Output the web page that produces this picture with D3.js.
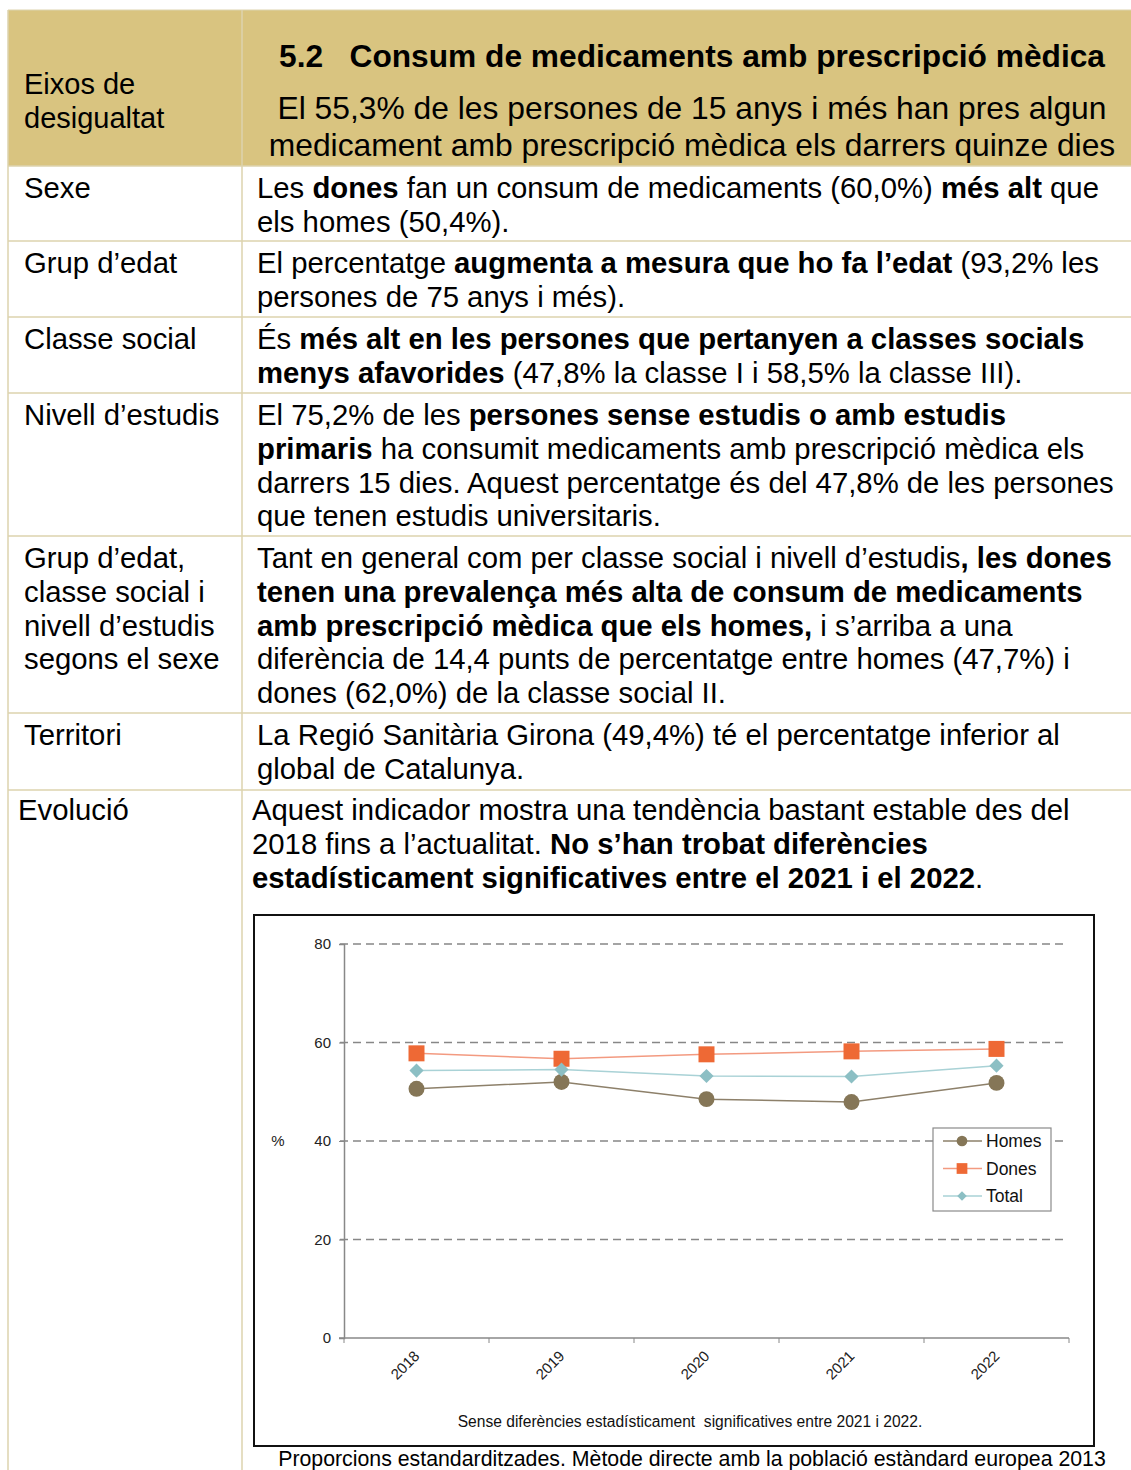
<!DOCTYPE html>
<html>
<head>
<meta charset="utf-8">
<script src="https://cdn.jsdelivr.net/npm/d3@7"></script>
<style>
  body { margin: 0; background: #fff; }
  text { font-family: "Liberation Sans", Arial, sans-serif; white-space: pre; }
</style>
</head>
<body>
<div id="chart"></div>
<script>
// ---- chart data ----
var years = ["2018", "2019", "2020", "2021", "2022"];
var homes = [50.6, 52.0, 48.5, 47.9, 51.8];
var dones = [57.8, 56.7, 57.6, 58.2, 58.7];
var total = [54.3, 54.5, 53.2, 53.1, 55.3];
var yTicks = [0, 20, 40, 60, 80];
var seriesNames = ["Homes", "Dones", "Total"];

// ---- table text ----
var title = "5.2   Consum de medicaments amb prescripció mèdica";
var subtitle = ["El 55,3% de les persones de 15 anys i més han pres algun",
                "medicament amb prescripció mèdica els darrers quinze dies"];
var headLeft = ["Eixos de", "desigualtat"];
var rowLabels = [
  ["Sexe"],
  ["Grup d’edat"],
  ["Classe social"],
  ["Nivell d’estudis"],
  ["Grup d’edat,", "classe social i", "nivell d’estudis", "segons el sexe"],
  ["Territori"],
  ["Evolució"]
];
var rowTexts = [
  ["Les **dones** fan un consum de medicaments (60,0%) **més alt** que",
   "els homes (50,4%)."],
  ["El percentatge **augmenta a mesura que ho fa l’edat** (93,2% les",
   "persones de 75 anys i més)."],
  ["És **més alt en les persones que pertanyen a classes socials**",
   "**menys afavorides** (47,8% la classe I i 58,5% la classe III)."],
  ["El 75,2% de les **persones sense estudis o amb estudis**",
   "**primaris** ha consumit medicaments amb prescripció mèdica els",
   "darrers 15 dies. Aquest percentatge és del 47,8% de les persones",
   "que tenen estudis universitaris."],
  ["Tant en general com per classe social i nivell d’estudis**, les dones**",
   "**tenen una prevalença més alta de consum de medicaments**",
   "**amb prescripció mèdica que els homes,** i s’arriba a una",
   "diferència de 14,4 punts de percentatge entre homes (47,7%) i",
   "dones (62,0%) de la classe social II."],
  ["La Regió Sanitària Girona (49,4%) té el percentatge inferior al",
   "global de Catalunya."],
  ["Aquest indicador mostra una tendència bastant estable des del",
   "2018 fins a l’actualitat. **No s’han trobat diferències**",
   "**estadísticament significatives entre el 2021 i el 2022**."]
];
var rowTops = [166, 241, 317, 393, 536, 713, 790];
var chartNote = "Sense diferències estadísticament  significatives entre 2021 i 2022.";
var footNote = "Proporcions estandarditzades. Mètode directe amb la població estàndard europea 2013";

var W = 1131, H = 1470;
var svg = d3.select("#chart").append("svg")
    .attr("width", W).attr("height", H);
svg.append("rect").attr("width", W).attr("height", H).attr("fill", "#fff");

var lineCol = "#dcd3ae";
var lh = 33.8;
var bodySize = 29.3;

// header
svg.append("rect").attr("x", 8).attr("y", 10).attr("width", W - 8).attr("height", 156)
    .attr("fill", "#d9c480");
svg.append("line").attr("x1", 8).attr("x2", W).attr("y1", 10).attr("y2", 10)
    .attr("stroke", lineCol);

svg.selectAll(".hl").data(headLeft).enter().append("text")
    .attr("x", 24).attr("y", function(d, i) { return 94 + i * lh; })
    .attr("font-size", 29).text(function(d) { return d; });

svg.append("text").attr("x", 692).attr("y", 67).attr("text-anchor", "middle")
    .attr("font-size", 31.7).attr("font-weight", "bold").text(title);
svg.selectAll(".sub").data(subtitle).enter().append("text")
    .attr("x", 692).attr("y", function(d, i) { return 119 + i * 37; })
    .attr("text-anchor", "middle").attr("font-size", 31.8).text(function(d) { return d; });

// table grid
svg.append("line").attr("x1", 8).attr("x2", 8).attr("y1", 10).attr("y2", H)
    .attr("stroke", lineCol).attr("stroke-width", 1.5);
svg.append("line").attr("x1", 242).attr("x2", 242).attr("y1", 10).attr("y2", H)
    .attr("stroke", lineCol).attr("stroke-width", 1.5);
svg.selectAll(".sep").data(rowTops).enter().append("line")
    .attr("x1", 8).attr("x2", W)
    .attr("y1", function(d) { return d; }).attr("y2", function(d) { return d; })
    .attr("stroke", lineCol).attr("stroke-width", 1.5);

// rows
rowTexts.forEach(function(lines, r) {
  var last = r === rowTexts.length - 1;
  var base = rowTops[r] + (last ? 30 : 32);
  var lx = last ? 18 : 24, rx = last ? 252 : 257;
  rowLabels[r].forEach(function(s, i) {
    svg.append("text").attr("x", lx).attr("y", base + i * lh)
        .attr("font-size", bodySize).text(s);
  });
  lines.forEach(function(s, i) {
    var t = svg.append("text").attr("x", rx).attr("y", base + i * lh).attr("font-size", bodySize);
    s.split("**").forEach(function(seg, k) {
      if (seg === "") return;
      t.append("tspan").attr("font-weight", k % 2 ? "bold" : "normal").text(seg);
    });
  });
});

// ---- chart ----
svg.append("rect").attr("x", 254).attr("y", 915).attr("width", 840).attr("height", 531)
    .attr("fill", "#fff").attr("stroke", "#111").attr("stroke-width", 2);

var x = d3.scaleBand().domain(years).range([344, 1069]).padding(0);
var y = d3.scaleLinear().domain([0, 80]).range([1338, 944]);

// gridlines
svg.append("g").selectAll("line").data(yTicks.filter(function(d) { return d > 0; }))
  .enter().append("line")
    .attr("x1", 340).attr("x2", 1065)
    .attr("y1", function(d) { return y(d); }).attr("y2", function(d) { return y(d); })
    .attr("stroke", "#878787").attr("stroke-width", 1.6).attr("stroke-dasharray", "8,5");

// y axis
var yAxis = svg.append("g").attr("transform", "translate(344,0)")
    .call(d3.axisLeft(y).tickValues(yTicks).tickSize(5).tickPadding(8));
yAxis.select(".domain").attr("stroke", "#888").attr("stroke-width", 1.5);
yAxis.selectAll(".tick line").attr("stroke", "#888");
yAxis.selectAll("text").attr("font-size", 15).attr("fill", "#222")
    .style("font-family", "Liberation Sans, Arial, sans-serif");

// x axis, ticks at category edges
var xAxis = svg.append("g").attr("transform", "translate(0,1338)");
xAxis.append("line").attr("x1", 339).attr("x2", 1069).attr("stroke", "#888").attr("stroke-width", 1.5);
xAxis.selectAll(".xt").data(years.concat(["end"])).enter().append("line")
    .attr("x1", function(d, i) { return 344 + i * x.bandwidth(); })
    .attr("x2", function(d, i) { return 344 + i * x.bandwidth(); })
    .attr("y1", 0).attr("y2", 5).attr("stroke", "#888");
xAxis.selectAll(".xl").data(years).enter().append("text")
    .attr("transform", function(d) {
      return "translate(" + (x(d) + x.bandwidth() / 2 + 4) + ",19) rotate(-45)";
    })
    .attr("text-anchor", "end").attr("font-size", 15).attr("fill", "#222")
    .text(function(d) { return d; });

svg.append("text").attr("x", 278).attr("y", 1146).attr("text-anchor", "middle")
    .attr("font-size", 15).attr("fill", "#222").text("%");

// series
var series = [
  { name: seriesNames[0], values: homes, line: "#8d806a", fill: "#857657", shape: d3.symbolCircle, size: 200, rot: 0 },
  { name: seriesNames[1], values: dones, line: "#f39a80", fill: "#ee6935", shape: d3.symbolSquare, size: 256, rot: 0 },
  { name: seriesNames[2], values: total, line: "#a9d2d6", fill: "#8cbfc4", shape: d3.symbolSquare, size: 100, rot: 45 }
];
var line = d3.line()
    .x(function(d, i) { return x(years[i]) + x.bandwidth() / 2; })
    .y(function(d) { return y(d); });

series.forEach(function(s) {
  svg.append("path").datum(s.values).attr("d", line)
      .attr("fill", "none").attr("stroke", s.line).attr("stroke-width", 1.5);
});
series.forEach(function(s) {
  svg.append("g").selectAll("path").data(s.values).enter().append("path")
      .attr("d", d3.symbol().type(s.shape).size(s.size))
      .attr("transform", function(d, i) {
        return "translate(" + (x(years[i]) + x.bandwidth() / 2) + "," + y(d) + ") rotate(" + s.rot + ")";
      })
      .attr("fill", s.fill);
});

// legend
var leg = svg.append("g").attr("transform", "translate(933,1128)");
leg.append("rect").attr("width", 118).attr("height", 83)
    .attr("fill", "#fff").attr("stroke", "#8a8a8a").attr("stroke-width", 1.2);
series.forEach(function(s, i) {
  var g = leg.append("g").attr("transform", "translate(0," + (13 + i * 27.5) + ")");
  g.append("line").attr("x1", 10).attr("x2", 49).attr("stroke", s.line).attr("stroke-width", 1.5);
  g.append("path").attr("d", d3.symbol().type(s.shape).size(s.size * 0.45))
      .attr("transform", "translate(29,0) rotate(" + s.rot + ")").attr("fill", s.fill);
  g.append("text").attr("x", 53).attr("y", 6).attr("font-size", 17.5).attr("fill", "#111").text(s.name);
});

svg.append("text").attr("x", 690).attr("y", 1427).attr("text-anchor", "middle")
    .attr("font-size", 15.6).attr("fill", "#111").text(chartNote);

svg.append("text").attr("x", 692).attr("y", 1466).attr("text-anchor", "middle")
    .attr("font-size", 21.3).attr("fill", "#000").text(footNote);
</script>
</body>
</html>
